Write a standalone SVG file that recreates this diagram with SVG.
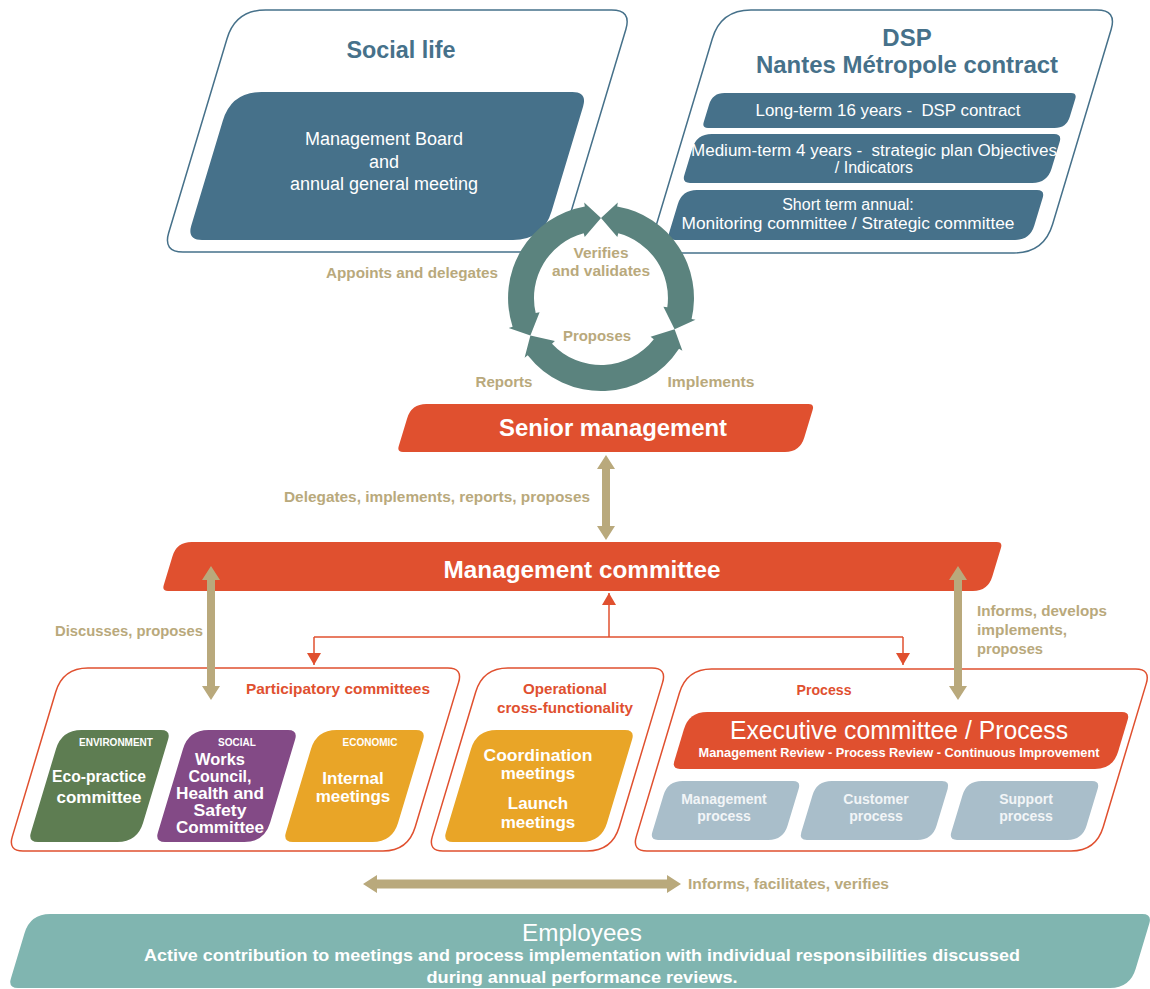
<svg xmlns="http://www.w3.org/2000/svg" width="1150" height="989" viewBox="0 0 1150 989">
<style>
text{font-family:"Liberation Sans",Arial,sans-serif;}
.c{text-anchor:middle;}
.e{text-anchor:end;}
.b{font-weight:bold;}
.blueTitle{fill:#46718A;font-weight:bold;font-size:24px;}
.wt{fill:#FFFFFF;}
.tan{fill:#B9A97C;font-weight:bold;font-size:15px;}
.red{fill:#E0502F;font-weight:bold;font-size:15px;}
.blueOut{fill:#FFFFFF;stroke:#46718A;stroke-width:1.5;}
.redOut{fill:#FFFFFF;stroke:#E0502F;stroke-width:1.5;}
.blueFill{fill:#46718A;}
.redFill{fill:#E0502F;}
.cyc{fill:#5B837E;}
.tanFill{fill:#B9A97C;}
.cap{fill:#FFFFFF;font-weight:bold;font-size:10px;}
.mid{fill:#FFFFFF;font-weight:bold;font-size:17px;}
.gray{fill:#A9BECA;}
.gt{fill:#F2F5F7;font-weight:bold;font-size:14px;}
</style>
<defs>
<marker id="redHead" viewBox="0 0 12 14" refX="12" refY="7" markerWidth="12" markerHeight="14" markerUnits="userSpaceOnUse" orient="auto"><path d="M0,0 L12,7 L0,14 Z" fill="#E0502F"/></marker>
<path id="smallBox" d="M81.6,730 L161,730 Q171,730 168.1,739.6 L143.1,822.8 Q137.4,842 117.4,842 L38,842 Q28,842 30.9,832.4 L55.9,749.2 Q61.6,730 81.6,730Z"/>
<path id="grayBox" d="M682.7,781 L793,781 Q801,781 798.7,788.7 L787.6,825.6 Q783.3,840 768.3,840 L658,840 Q650,840 652.3,832.3 L663.4,795.4 Q667.7,781 682.7,781Z"/>
</defs>

<g id="social-life">
<path class="blueOut" d="M265.6,10 L611.6,10 Q631.6,10 625.9,29.2 L567.6,223.3 Q559,252 529,252 L183,252 Q163,252 168.7,232.8 L227,38.7 Q235.6,10 265.6,10Z"/>
<text class="c blueTitle" x="401" y="58" textLength="109" lengthAdjust="spacingAndGlyphs">Social life</text>
<path class="blueFill" d="M261.4,92 L572.4,92 Q587.4,92 583.1,106.4 L551.6,211.3 Q543,240 513,240 L202,240 Q187,240 191.3,225.6 L222.8,120.7 Q231.4,92 261.4,92Z"/>
<text class="c wt" x="384" y="145" font-size="18">Management Board</text>
<text class="c wt" x="384" y="168" font-size="18">and</text>
<text class="c wt" x="384" y="190" font-size="18">annual general meeting</text>
</g>

<g id="dsp-contract">
<path class="blueOut" d="M750.9,10 L1096.9,10 Q1116.9,10 1111.2,29.2 L1052.6,224.3 Q1044,253 1014,253 L668,253 Q648,253 653.7,233.8 L712.3,38.7 Q720.9,10 750.9,10Z"/>
<text class="c blueTitle" x="907" y="46">DSP</text>
<text class="c blueTitle" x="907" y="73" textLength="302" lengthAdjust="spacingAndGlyphs">Nantes Métropole contract</text>
<path class="blueFill" d="M724.5,93 L1071,93 Q1077,93 1075.3,98.7 L1069.9,116.5 Q1066.5,128 1054.5,128 L708,128 Q702,128 703.7,122.3 L709.1,104.5 Q712.5,93 724.5,93Z"/>
<text class="c wt" x="888" y="116" font-size="16" xml:space="preserve" textLength="265" lengthAdjust="spacingAndGlyphs">Long-term 16 years -  DSP contract</text>
<path class="blueFill" d="M711.7,134 L1054,134 Q1062,134 1059.7,141.7 L1051.6,168.6 Q1047.3,183 1032.3,183 L690,183 Q682,183 684.3,175.3 L692.4,148.4 Q696.7,134 711.7,134Z"/>
<text class="c wt" x="874" y="156" font-size="16" xml:space="preserve" textLength="366" lengthAdjust="spacingAndGlyphs">Medium-term 4 years -  strategic plan Objectives</text>
<text class="c wt" x="874" y="173" font-size="16">/ Indicators</text>
<path class="blueFill" d="M697,190 L1037,190 Q1045,190 1042.7,197.7 L1034.3,225.6 Q1030,240 1015,240 L675,240 Q667,240 669.3,232.3 L677.7,204.4 Q682,190 697,190Z"/>
<text class="c wt" x="848" y="210" font-size="16">Short term annual:</text>
<text class="c wt" x="848" y="229" font-size="16" textLength="333" lengthAdjust="spacingAndGlyphs">Monitoring committee / Strategic committee</text>
</g>

<g id="cycle">
<path class="cyc" d="M601,218 L617.8,202.5 L617.2,206.4 A93,93 0 0 1 691.6,318.9 L695.5,319.8 L674.6,329.3 L663.4,306.8 L667.3,307.3 A67,67 0 0 0 618.3,233.3 L617.3,237.1 Z"/>
<path class="cyc" d="M674.6,329.3 L682.4,350.8 L679,348.7 A93,93 0 0 1 527.7,355.3 L524.6,357.7 L530.4,335.6 L554.9,341 L552,343.7 A67,67 0 0 0 653.8,339.2 L650.6,336.8 Z"/>
<path class="cyc" d="M530.4,335.6 L508.7,328 L512.6,326.7 A93,93 0 0 1 584.8,206.4 L584.2,202.5 L601,218 L584.7,237.1 L583.7,233.3 A67,67 0 0 0 535.7,313.1 L539.6,312.2 Z"/>
<text class="c tan" x="601" y="258" textLength="55" lengthAdjust="spacingAndGlyphs">Verifies</text>
<text class="c tan" x="601" y="276" textLength="98" lengthAdjust="spacingAndGlyphs">and validates</text>
<text class="c tan" x="597" y="341" textLength="68" lengthAdjust="spacingAndGlyphs">Proposes</text>
</g>

<g id="senior-management">
<path class="redFill" d="M426.4,404 L808.4,404 Q814.4,404 812.7,409.7 L804.3,437.6 Q800,452 785,452 L403,452 Q397,452 398.7,446.3 L407.1,418.4 Q411.4,404 426.4,404Z"/>
<text class="c wt b" x="613" y="436" font-size="24" textLength="228" lengthAdjust="spacingAndGlyphs">Senior management</text>
</g>

<g id="management-committee">
<path class="redFill" d="M191.7,542 L996.7,542 Q1002.7,542 1001,547.7 L992.3,576.6 Q988,591 973,591 L168,591 Q162,591 163.7,585.3 L172.4,556.4 Q176.7,542 191.7,542Z"/>
<text class="c wt b" x="582" y="578" font-size="24" textLength="277" lengthAdjust="spacingAndGlyphs">Management committee</text>
</g>

<g id="participatory-committees">
<path class="redOut" d="M87.9,668 L447.9,668 Q462.9,668 458.6,682.4 L415.2,827 Q408,851 383,851 L23,851 Q8,851 12.3,836.6 L55.7,692 Q62.9,668 87.9,668Z"/>
<text class="c red" x="338" y="694" textLength="184" lengthAdjust="spacingAndGlyphs">Participatory committees</text>
<g id="eco-practice">
<use href="#smallBox" fill="#5E7D52"/>
<text class="c cap" x="116" y="746">ENVIRONMENT</text>
<text class="c mid" x="99" y="782" textLength="94" lengthAdjust="spacingAndGlyphs">Eco-practice</text>
<text class="c mid" x="99" y="803">committee</text>
</g>
<g id="works-council">
<use href="#smallBox" fill="#834A86" transform="translate(127,0)"/>
<text class="c cap" x="237" y="746">SOCIAL</text>
<text class="c mid" x="220" y="765" font-size="14.5" textLength="50" lengthAdjust="spacingAndGlyphs">Works</text>
<text class="c mid" x="220" y="782" font-size="14.5" textLength="63" lengthAdjust="spacingAndGlyphs">Council,</text>
<text class="c mid" x="220" y="799" font-size="14.5" textLength="88" lengthAdjust="spacingAndGlyphs">Health and</text>
<text class="c mid" x="220" y="816" font-size="14.5" textLength="53" lengthAdjust="spacingAndGlyphs">Safety</text>
<text class="c mid" x="220" y="833" font-size="14.5" textLength="88" lengthAdjust="spacingAndGlyphs">Committee</text>
</g>
<g id="internal-meetings">
<use href="#smallBox" fill="#E9A527" transform="translate(255,0)"/>
<text class="c cap" x="370" y="746">ECONOMIC</text>
<text class="c mid" x="353" y="784">Internal</text>
<text class="c mid" x="353" y="802">meetings</text>
</g>
</g>

<g id="operational">
<path class="redOut" d="M507.9,668 L651.9,668 Q666.9,668 662.6,682.4 L619.2,827 Q612,851 587,851 L443,851 Q428,851 432.3,836.6 L475.7,692 Q482.9,668 507.9,668Z"/>
<text class="c red" x="565" y="694" textLength="84" lengthAdjust="spacingAndGlyphs">Operational</text>
<text class="c red" x="565" y="713" textLength="136" lengthAdjust="spacingAndGlyphs">cross-functionality</text>
<g id="coordination">
<path fill="#E9A527" d="M496.6,730 L625,730 Q635,730 632.1,739.6 L607.1,822.8 Q601.4,842 581.4,842 L453,842 Q443,842 445.9,832.4 L470.9,749.2 Q476.6,730 496.6,730Z"/>
<text class="c mid" x="538" y="761" font-size="18" textLength="109" lengthAdjust="spacingAndGlyphs">Coordination</text>
<text class="c mid" x="538" y="779" font-size="18">meetings</text>
<text class="c mid" x="538" y="809" font-size="18">Launch</text>
<text class="c mid" x="538" y="828" font-size="18">meetings</text>
</g>
</g>

<g id="process">
<path class="redOut" d="M711.6,669 L1135.6,669 Q1150.6,669 1146.3,683.4 L1103.2,827 Q1096,851 1071,851 L647,851 Q632,851 636.3,836.6 L679.4,693 Q686.6,669 711.6,669Z"/>
<text class="c red" x="824" y="695" textLength="55" lengthAdjust="spacingAndGlyphs">Process</text>
<g id="executive-committee">
<path class="redFill" d="M707.1,712 L1122,712 Q1130,712 1127.7,719.7 L1118.1,751.8 Q1112.9,769 1094.9,769 L680,769 Q672,769 674.3,761.3 L683.9,729.2 Q689.1,712 707.1,712Z"/>
<text class="c wt" x="899" y="739" font-size="26" textLength="338" lengthAdjust="spacingAndGlyphs">Executive committee / Process</text>
<text class="c wt b" x="899" y="757" font-size="12.5" textLength="401" lengthAdjust="spacingAndGlyphs">Management Review - Process Review - Continuous Improvement</text>
</g>
<g id="management-process">
<use href="#grayBox" class="gray"/>
<text class="c gt" x="724" y="804">Management</text>
<text class="c gt" x="724" y="821">process</text>
</g>
<g id="customer-process">
<use href="#grayBox" class="gray" transform="translate(149,0)"/>
<text class="c gt" x="876" y="804">Customer</text>
<text class="c gt" x="876" y="821">process</text>
</g>
<g id="support-process">
<use href="#grayBox" class="gray" transform="translate(299,0)"/>
<text class="c gt" x="1026" y="804">Support</text>
<text class="c gt" x="1026" y="821">process</text>
</g>
</g>

<g id="employees">
<path fill="#80B5B0" d="M50.2,914 L1142.2,914 Q1152.2,914 1149.3,923.6 L1135.7,968.8 Q1130,988 1110,988 L18,988 Q8,988 10.9,978.4 L24.5,933.2 Q30.2,914 50.2,914Z"/>
<text class="c wt" x="582" y="941" font-size="24" textLength="120" lengthAdjust="spacingAndGlyphs">Employees</text>
<text class="c wt b" x="582" y="961" font-size="17" textLength="876" lengthAdjust="spacingAndGlyphs">Active contribution to meetings and process implementation with individual responsibilities discussed</text>
<text class="c wt b" x="582" y="983" font-size="17" textLength="311" lengthAdjust="spacingAndGlyphs">during annual performance reviews.</text>
</g>

<g id="connectors">
<path class="tanFill" d="M606,455 L615,469 L610,469 L610,526 L615,526 L606,540 L597,526 L602,526 L602,469 L597,469 Z"/>
<path class="tanFill" d="M211,566 L220,580 L215,580 L215,686 L220,686 L211,700 L202,686 L207,686 L207,580 L202,580 Z"/>
<path class="tanFill" d="M958,566 L967,580 L962,580 L962,686 L967,686 L958,700 L949,686 L954,686 L954,580 L949,580 Z"/>
<path class="tanFill" d="M363,884 L377,875 L377,879.5 L667,879.5 L667,875 L681,884 L667,893 L667,888.5 L377,888.5 L377,893 Z"/>
<g fill="none" stroke="#E0502F" stroke-width="1.5">
<path d="M314,637 L903,637"/>
<path d="M609,637 L609,593" marker-end="url(#redHead)"/>
<path d="M314,637 L314,665" marker-end="url(#redHead)"/>
<path d="M903,637 L903,665" marker-end="url(#redHead)"/>
</g>
<text class="c tan" x="412" y="278" textLength="172" lengthAdjust="spacingAndGlyphs">Appoints and delegates</text>
<text class="c tan" x="504" y="387" textLength="57" lengthAdjust="spacingAndGlyphs">Reports</text>
<text class="c tan" x="711" y="387" textLength="87" lengthAdjust="spacingAndGlyphs">Implements</text>
<text class="e tan" x="590" y="502" textLength="306" lengthAdjust="spacingAndGlyphs">Delegates, implements, reports, proposes</text>
<text class="tan" x="55" y="636" textLength="148" lengthAdjust="spacingAndGlyphs">Discusses, proposes</text>
<text class="tan" x="977" y="616" textLength="130" lengthAdjust="spacingAndGlyphs">Informs, develops</text>
<text class="tan" x="977" y="635" textLength="90" lengthAdjust="spacingAndGlyphs">implements,</text>
<text class="tan" x="977" y="654" textLength="66" lengthAdjust="spacingAndGlyphs">proposes</text>
<text class="tan" x="688" y="889" textLength="201" lengthAdjust="spacingAndGlyphs">Informs, facilitates, verifies</text>
</g>
</svg>
